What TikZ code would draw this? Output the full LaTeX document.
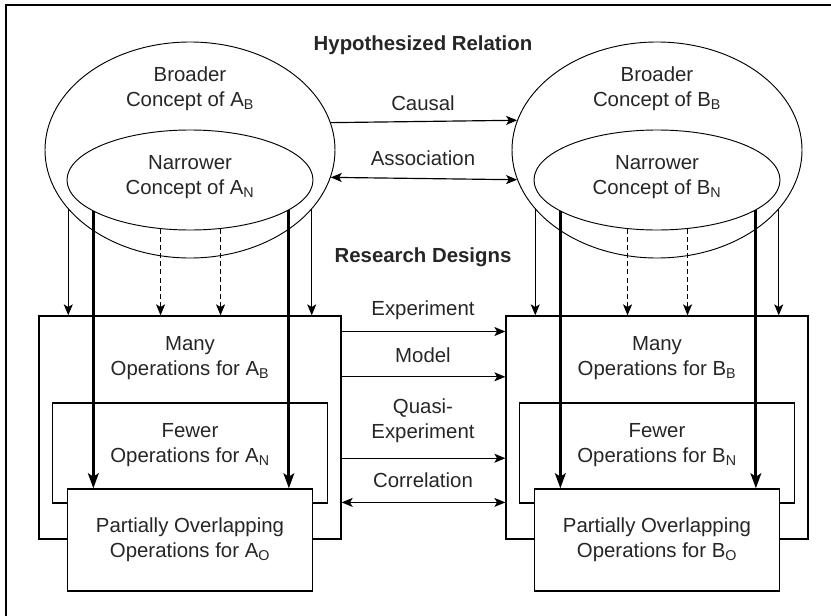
\documentclass[tikz,border=0pt]{standalone}
\usepackage{fontspec}
\setmainfont{Liberation Sans}
\usetikzlibrary{arrows.meta,calc,shapes.geometric}

\tikzset{
  broadell/.style={draw, ellipse, line width=0.8pt, inner sep=0pt,
    minimum width=8.7cm, minimum height=6.48cm},
  narrowell/.style={draw, ellipse, line width=0.8pt, inner sep=0pt,
    minimum width=7.38cm, minimum height=3cm},
  opbox/.style={draw, rectangle, line width=1.1pt, inner sep=0pt},
  label/.style={align=center, text=black!85},
  link/.style={line width=1pt},
  dlink/.style={line width=1pt, dash pattern=on 4.3pt off 2.6pt},
  heavy/.style={line width=2.5pt, -{Stealth[length=0.45cm,width=0.32cm,inset=0.1cm]}},
}

\begin{document}
\begin{tikzpicture}[x=0.03cm, y=-0.03cm, font=\fontsize{17.4pt}{21.3pt}\selectfont,
  >={Stealth[length=0.33cm,width=0.27cm,inset=0.08cm]}]
  \useasboundingbox (0,0) rectangle (831,616);
  \draw[line width=2pt] (6,616) -- (6,5) -- (831,5);

  % concepts
  \node[broadell] (aB) at (190,150) {};
  \node[narrowell] (aN) at (190,180) {};
  \node[broadell] (bB) at (657,150) {};
  \node[narrowell] (bN) at (657,180) {};
  \node[label] (aBtext) at (190,89) {Broader\\Concept of A\textsubscript{B}};
  \node[label] (aNtext) at (190,177) {Narrower\\Concept of A\textsubscript{N}};
  \node[label] (bBtext) at (657,89) {Broader\\Concept of B\textsubscript{B}};
  \node[label] (bNtext) at (657,177) {Narrower\\Concept of B\textsubscript{N}};

  % operations
  \node[opbox, minimum width=9.06cm, minimum height=6.69cm] (manyA) at (190,427.5) {};
  \node[opbox, minimum width=8.25cm, minimum height=3cm] (fewA) at (190,453) {};
  \node[opbox, minimum width=7.35cm, minimum height=3.06cm, fill=white, label] (overA) at (190,540)
    {Partially Overlapping\\Operations for A\textsubscript{O}};
  \node[opbox, minimum width=9.06cm, minimum height=6.69cm] (manyB) at (657,427.5) {};
  \node[opbox, minimum width=8.25cm, minimum height=3cm] (fewB) at (657,453) {};
  \node[opbox, minimum width=7.35cm, minimum height=3.06cm, fill=white, label] (overB) at (657,540)
    {Partially Overlapping\\Operations for B\textsubscript{O}};
  \node[label] (manyAtext) at (190,358) {Many\\Operations for A\textsubscript{B}};
  \node[label] (fewAtext) at (190,445) {Fewer\\Operations for A\textsubscript{N}};
  \node[label] (manyBtext) at (657,358) {Many\\Operations for B\textsubscript{B}};
  \node[label] (fewBtext) at (657,445) {Fewer\\Operations for B\textsubscript{N}};

  % relation labels
  \node[label, font=\fontsize{17.4pt}{21.3pt}\selectfont\bfseries] (hyp) at (423,45) {Hypothesized Relation};
  \node[label, font=\fontsize{17.4pt}{21.3pt}\selectfont\bfseries] (designs) at (423,257) {Research Designs};
  \node[label] (causal) at (423,103) {Causal};
  \node[label] (assoc) at (423,158) {Association};
  \node[label] (exper) at (423,310) {Experiment};
  \node[label] (model) at (423,355) {Model};
  \node[label] (quasi) at (423,421) {Quasi-\\Experiment};
  \node[label] (correl) at (423,480) {Correlation};

  \draw[link,->] (aB.11.3) -- (bB.168.7);
  \draw[link,<->] (aB.-11.7) -- (bB.-168.3);

  % concepts to operations
  \foreach \br/\nr/\mn/\ov in {aB/aN/manyA/overA, bB/bN/manyB/overB} {
    \draw[link,->] (\br.-154) -- (\br.-154 |- \mn.north);
    \draw[link,->] (\br.-26) -- (\br.-26 |- \mn.north);
    \draw[dlink,->] (\nr.-121.3) -- (\nr.-121.3 |- \mn.north);
    \draw[dlink,->] (\nr.-58.7) -- (\nr.-58.7 |- \mn.north);
    \draw[heavy] (\nr.-162.6) -- (\nr.-162.6 |- \ov.north);
    \draw[heavy] (\nr.-17.4) -- (\nr.-17.4 |- \ov.north);
  }

  % designs
  \foreach \t in {.072,.274,.637}
    \draw[link,->] ($(manyA.north east)!\t!(manyA.south east)$) -- ($(manyB.north west)!\t!(manyB.south west)$);
  \draw[link,<->] ($(manyA.north east)!.834!(manyA.south east)$) -- ($(manyB.north west)!.834!(manyB.south west)$);
\end{tikzpicture}
\end{document}
